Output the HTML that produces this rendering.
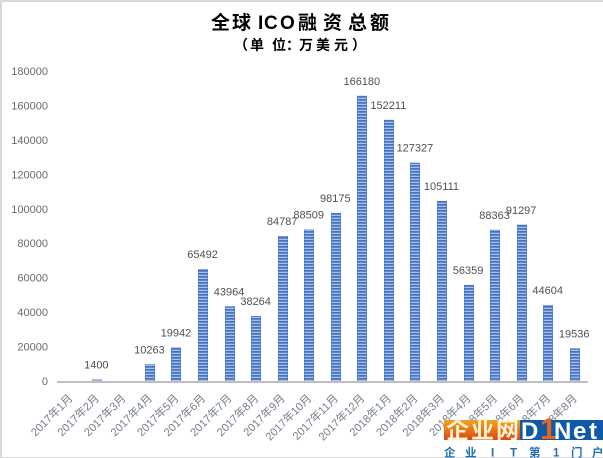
<!DOCTYPE html>
<html lang="zh">
<head>
<meta charset="utf-8">
<title>全球ICO融资总额</title>
<style>
html,body{margin:0;padding:0;background:#fff;}
#chart{display:block;width:603px;height:458px;}
text{font-family:"Liberation Sans","Noto Sans CJK SC",sans-serif;}
</style>
</head>
<body>
<svg id="chart" xmlns="http://www.w3.org/2000/svg" width="603" height="458" viewBox="0 0 603 458">
  <defs>
    <pattern id="stripes" width="3" height="3" patternUnits="userSpaceOnUse">
      <rect width="3" height="1" y="0" fill="#4472c4"/>
      <rect width="3" height="1" y="1" fill="#5f86d0"/>
      <rect width="3" height="1" y="2" fill="#aac1ea"/>
    </pattern>
    <linearGradient id="orange" x1="0" y1="0" x2="0" y2="1">
      <stop offset="0" stop-color="#f6a21c"/>
      <stop offset="1" stop-color="#d9480f"/>
    </linearGradient>
  </defs>
  <rect width="603" height="458" fill="#fff"/>
  <rect x="0" y="0" width="603" height="2" fill="#d9d9d9"/>
  <rect x="0" y="0" width="2" height="458" fill="#d9d9d9"/>
  <rect x="0" y="457" width="603" height="1" fill="#d9d9d9"/>
  <text x="211 232 258 264 280 298 323 348 370" y="29" font-size="19" font-weight="bold" fill="#000">全球ICO融资总额</text>
  <text x="234 250 272 286 299 316 334 352" y="50" font-size="14" font-weight="bold" fill="#000">（单位：万美元）</text>
  <g id="y-axis"></g>
  <g id="bars"></g>
  <g id="labels"></g>
  <g id="x-axis"></g>
  <g>
    <rect x="444" y="420" width="76" height="20" fill="url(#orange)"/>
    <text x="446 471 496" y="438" font-size="23" font-weight="bold" fill="#fff3d6">企业网</text>
    <rect x="520" y="420" width="83" height="20" fill="#0f5aa8"/>
    <text x="521" y="439" font-size="24" font-weight="bold" fill="#fff">D</text>
    <text x="540" y="439" font-size="30" font-weight="bold" fill="#e8641b">1</text>
    <text x="554 573 589" y="439" font-size="24" font-weight="bold" fill="#fff">Net</text>
    <text x="444 465 491 510 529 553 571 592" y="456.5" font-size="11.5" font-weight="bold" fill="#1f6fb2">企业IT第1门户</text>
  </g>
</svg>
<script>
const categories = ["2017年1月","2017年2月","2017年3月","2017年4月","2017年5月","2017年6月","2017年7月","2017年8月","2017年9月","2017年10月","2017年11月","2017年12月","2018年1月","2018年2月","2018年3月","2018年4月","2018年5月","2018年6月","2018年7月","2018年8月"];
const values = [null,1400,null,10263,19942,65492,43964,38264,84787,88509,98175,166180,152211,127327,105111,56359,88363,91297,44604,19536];
const yTicks = [0,20000,40000,60000,80000,100000,120000,140000,160000,180000];

const NS = "http://www.w3.org/2000/svg";
const plotLeft = 57, plotRight = 588, plotBottom = 382, plotTop = 72, yMax = 180000, barWidth = 10;

function yScale(v) { return plotBottom - (v / yMax) * (plotBottom - plotTop); }
function xScale(i) { return plotLeft + (i + 0.5) * (plotRight - plotLeft) / categories.length; }
function make(tag, attrs, text) {
  const el = document.createElementNS(NS, tag);
  for (const k in attrs) el.setAttribute(k, attrs[k]);
  if (text !== undefined) el.textContent = text;
  return el;
}

const yAxis = document.getElementById("y-axis");
const xAxis = document.getElementById("x-axis");
const barsG = document.getElementById("bars");
const labelsG = document.getElementById("labels");

yTicks.forEach(function (t) {
  const el = make("text", {x: 48, y: yScale(t) + 3, "text-anchor": "end", "font-size": 11, fill: "#6a6a6a"}, String(t));
  
  
  yAxis.appendChild(el);
});

values.forEach(function (v, i) {
  if (v === null) return;
  const top = yScale(v);
  const bar = make("rect", {x: Math.round(xScale(i) - barWidth / 2) + 0.25, y: top + 0.25, width: barWidth - 0.5, height: plotBottom - top, fill: "url(#stripes)", stroke: "#4472c4", "stroke-width": 0.5});
  
  
  barsG.appendChild(bar);
  const lab = make("text", {x: xScale(i) - 0.5, y: top - 11, "text-anchor": "middle", "font-size": 11, fill: "#505050"}, String(v));
  
  
  labelsG.appendChild(lab);
});

const axisLine = make("rect", {x: plotLeft, y: 381, width: plotRight - plotLeft, height: 2, fill: "#bfbfbf"});


xAxis.appendChild(axisLine);

categories.forEach(function (c, i) {
  const px = xScale(i) + 3, py = 399;
  const el = make("text", {x: px, y: py, "text-anchor": "end", "font-size": 11.2, fill: "#77808f", transform: "rotate(-45 " + px + " " + py + ")"}, c);
  
  
  xAxis.appendChild(el);
});
</script>
</body>
</html>
